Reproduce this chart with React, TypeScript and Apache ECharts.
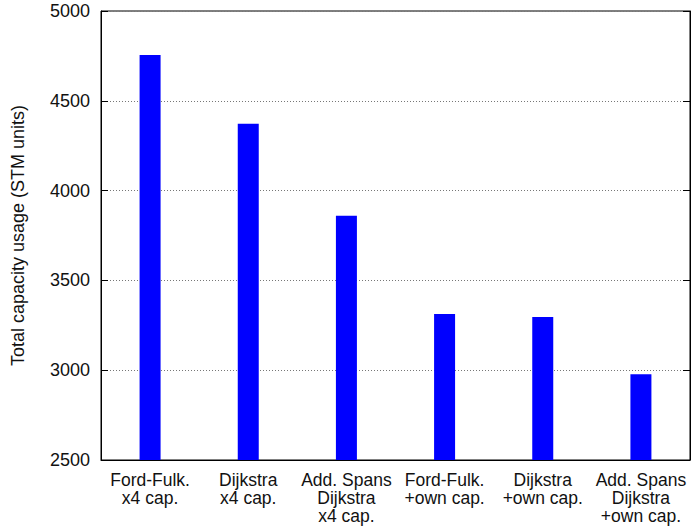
import React, { useEffect, useRef } from "react";
import * as echarts from "echarts";

const categories = [
  "Ford-Fulk.\nx4 cap.",
  "Dijkstra\nx4 cap.",
  "Add. Spans\nDijkstra\nx4 cap.",
  "Ford-Fulk.\n+own cap.",
  "Dijkstra\n+own cap.",
  "Add. Spans\nDijkstra\n+own cap.",
];
const capacityUsage = [4755, 4372, 3860, 3313, 3296, 2977];
const yMin = 2500;
const yMax = 5000;
const yStep = 500;
const yTitle = "Total capacity usage (STM units)";

const FONT = "'Liberation Sans', Arial, sans-serif";

export default function App() {
  const ref = useRef<HTMLDivElement>(null);
  useEffect(() => {
    if (!ref.current) return;
    const chart = echarts.init(ref.current, null, { renderer: "svg" });
    chart.setOption({
      animation: false,
      backgroundColor: "#fff",
      textStyle: { fontFamily: FONT },
      grid: {
        left: 101,
        right: 1,
        top: 11,
        bottom: 69,
        show: true,
        borderColor: "#000",
        borderWidth: 1,
        backgroundColor: "transparent",
      },
      xAxis: {
        type: "category",
        data: categories,
        axisLine: { show: true, lineStyle: { color: "#000", width: 1 } },
        axisTick: { show: false },
        axisLabel: {
          color: "#111",
          fontSize: 17.5,
          lineHeight: 18,
          margin: 11,
          fontFamily: FONT,
          interval: 0,
          verticalAlign: "top",
        },
        splitLine: { show: false },
      },
      yAxis: [
        {
          type: "value",
          min: yMin,
          max: yMax,
          interval: yStep,
          position: "left",
          name: yTitle,
          nameLocation: "middle",
          nameRotate: 90,
          nameGap: 74,
          nameTextStyle: { color: "#111", fontSize: 18, fontFamily: FONT },
          axisLine: { show: true, lineStyle: { color: "#000", width: 1 } },
          axisTick: { show: true, inside: true, length: 7, lineStyle: { color: "#000" } },
          axisLabel: {
            color: "#111",
            fontSize: 18,
            margin: 11,
            fontFamily: FONT,
            formatter: (v: number) => String(v),
          },
          splitLine: {
            show: true,
            lineStyle: { color: "#777", type: [1, 2], width: 1 },
          },
        },
        {
          type: "value",
          min: yMin,
          max: yMax,
          interval: yStep,
          position: "right",
          axisLine: { show: true, lineStyle: { color: "#000", width: 1 } },
          axisTick: { show: true, inside: true, length: 7, lineStyle: { color: "#000" } },
          axisLabel: { show: false },
          splitLine: { show: false },
        },
      ],
      series: [
        {
          type: "bar",
          data: capacityUsage,
          yAxisIndex: 0,
          barWidth: 21,
          itemStyle: { color: "#0000ff" },
        },
      ],
    });
    return () => chart.dispose();
  }, []);
  return <div ref={ref} style={{ width: 691, height: 529, position: "absolute", left: 0, top: 0 }} />;
}
